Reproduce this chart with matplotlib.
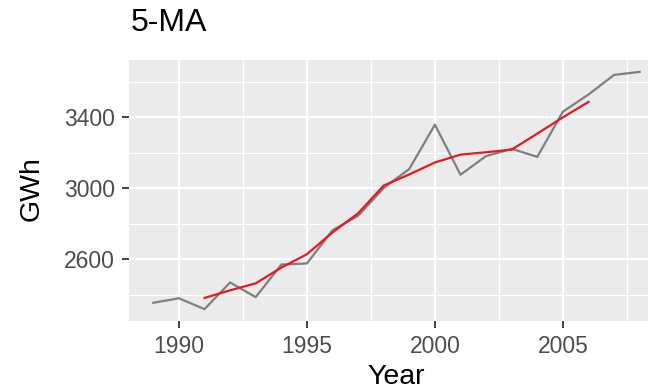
import matplotlib
matplotlib.use("Agg")
import matplotlib.pyplot as plt
from matplotlib.ticker import FixedLocator

# Annual electricity sales (GWh)
years = list(range(1989, 2009))
sales = [2354.34, 2379.71, 2318.52, 2468.99, 2386.09, 2569.47, 2575.72,
         2762.72, 2844.50, 3000.70, 3108.10, 3357.50, 3075.70, 3180.60,
         3221.60, 3176.20, 3430.60, 3527.48, 3637.89, 3655.00]

# Centred 5-year moving average
ma_years = list(range(1991, 2007))
ma5 = [2381.53, 2424.56, 2463.76, 2552.60, 2627.70, 2750.62, 2858.35,
       3014.70, 3077.30, 3144.52, 3188.70, 3202.32, 3216.94, 3307.30,
       3398.75, 3485.43]

x_ticks = [1990, 1995, 2000, 2005]
y_ticks = [2600, 3000, 3400]

plt.rcParams['font.family'] = ['Liberation Sans', 'DejaVu Sans']

W, H = 648, 392
fig = plt.figure(figsize=(W / 100, H / 100), dpi=100)
left, right, top, bottom = 129, 664, 60, 321
pw, ph = right - left, bottom - top
ax = fig.add_axes([left / W, 1 - bottom / H, pw / W, ph / H])
ax.set_facecolor('#EBEBEB')

xr = years[-1] - years[0]
ax.set_xlim(years[0] - 0.05 * xr, years[-1] + 0.05 * xr)
ymin, ymax = min(sales), max(sales)
yr = ymax - ymin
ax.set_ylim(ymin - 0.05 * yr, ymax + 0.05 * yr)

ax.xaxis.set_major_locator(FixedLocator(x_ticks))
ax.yaxis.set_major_locator(FixedLocator(y_ticks))
ax.xaxis.set_minor_locator(FixedLocator([1987.5, 1992.5, 1997.5, 2002.5, 2007.5]))
ax.yaxis.set_minor_locator(FixedLocator([2400, 2800, 3200, 3600]))
ax.grid(which='major', color='white', linewidth=1.6)
ax.grid(which='minor', color='white', linewidth=0.8)
ax.set_axisbelow(True)
for s in ax.spines.values():
    s.set_visible(False)

ax.tick_params(which='major', length=5, width=1.3, color='#333333',
               labelsize=16.5, labelcolor='#4D4D4D', pad=5)
ax.tick_params(which='minor', length=0)

ax.plot(years, sales, color='#7F7F7F', linewidth=1.6)
ax.plot(ma_years, ma5, color='#E8191C', linewidth=1.6)

ax.set_xlabel('Year', fontsize=20.5, color='black')
ax.set_ylabel('GWh', fontsize=20.5, color='black')
ax.xaxis.set_label_coords((396 - left) / pw, (bottom - 377) / ph)
ax.xaxis.label.set_va('center')
ax.yaxis.set_label_coords((32 - left) / pw, (bottom - 189) / ph)
ax.yaxis.label.set_va('center')

fig.text(131 / W, 1 - 23 / H, '5-MA', fontsize=23, va='center', ha='left')

fig.savefig('out.png', dpi=100)
